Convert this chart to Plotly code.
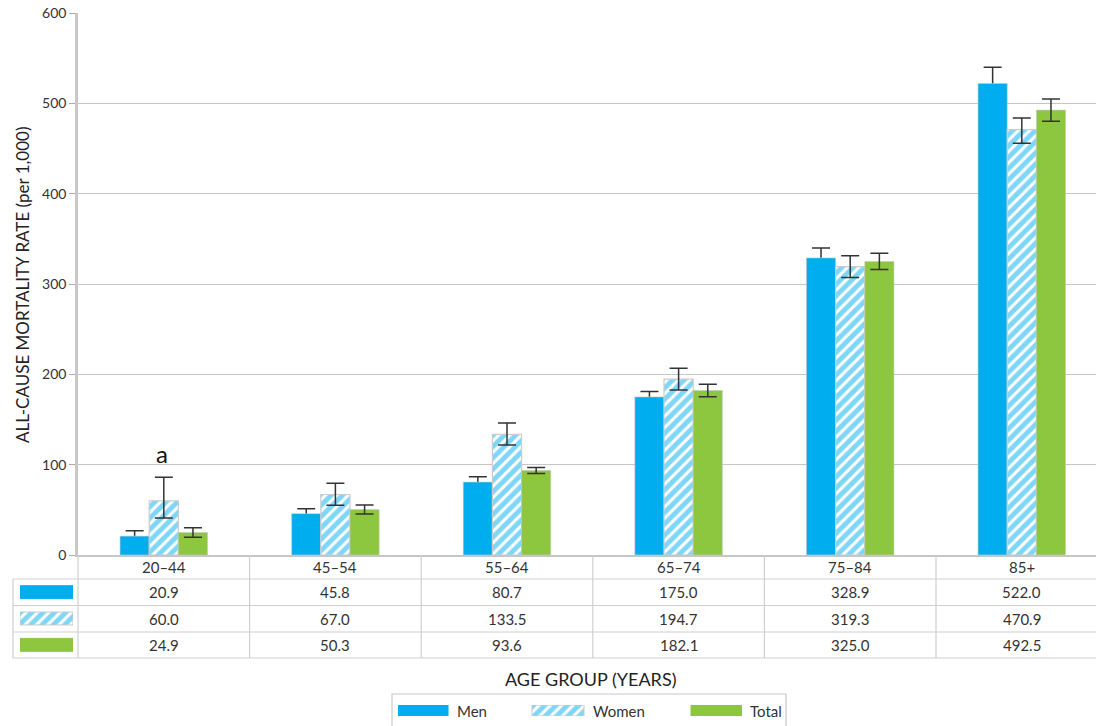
import plotly.graph_objects as go

# ---------------- data ----------------
categories = ["20–44", "45–54", "55–64", "65–74", "75–84", "85+"]
men = [20.9, 45.8, 80.7, 175.0, 328.9, 522.0]
women = [60.0, 67.0, 133.5, 194.7, 319.3, 470.9]
total = [24.9, 50.3, 93.6, 182.1, 325.0, 492.5]
men_err = [6.0, 5.5, 6.0, 6.0, 11.0, 18.0]
women_err_plus = [26.0, 12.3, 12.6, 12.0, 12.0, 13.0]
women_err_minus = [19.0, 12.0, 11.7, 12.0, 12.0, 15.0]
total_err = [5.3, 5.0, 3.4, 6.8, 9.0, 12.2]
series_names = ["Men", "Women", "Total"]
y_ticks = [0, 100, 200, 300, 400, 500, 600]

# ---------------- style ----------------
W, H = 1096, 726
BLUE = "#00AEEF"
GREEN = "#8DC63F"
GRID = "#c6c6c6"
TXT = "#333333"
FONT = "Lato"
ERR = "#333333"
PAT = dict(shape="/", fgcolor=BLUE, bgcolor="white", size=8, solidity=0.62)


def fx(px):
    return px / W


def fy(py):
    return 1 - py / H


fig = go.Figure()

# invisible carrier for men error bars (drawn beneath the men bars)
fig.add_trace(go.Bar(
    x=categories, y=men, offsetgroup="men",
    marker=dict(color="rgba(0,0,0,0)", line=dict(width=0)),
    error_y=dict(type="data", array=men_err, color=ERR, thickness=1.5, width=9),
    showlegend=False, hoverinfo="skip"))
fig.add_trace(go.Bar(
    x=categories, y=men, name="Men", offsetgroup="men",
    marker=dict(color=BLUE, line=dict(color="rgba(200,200,200,0.6)", width=1)),
    showlegend=False))
fig.add_trace(go.Bar(
    x=categories, y=women, name="Women", offsetgroup="women",
    marker=dict(color="white", line=dict(color="#cccccc", width=1.2), pattern=PAT),
    error_y=dict(type="data", symmetric=False, array=women_err_plus,
                 arrayminus=women_err_minus, color=ERR, thickness=1.5, width=9),
    showlegend=False))
fig.add_trace(go.Bar(
    x=categories, y=total, name="Total", offsetgroup="total",
    marker=dict(color=GREEN, line=dict(color="rgba(200,200,200,0.6)", width=1)),
    error_y=dict(type="data", array=total_err, color=ERR, thickness=1.5, width=9),
    showlegend=False))

# swatch styles for table and legend
sw_styles = [
    dict(color=BLUE, line=dict(color=BLUE, width=1)),
    dict(color="white", line=dict(color="#c8c8c8", width=1), pattern=PAT),
    dict(color=GREEN, line=dict(color=GREEN, width=1)),
]

# table swatches (x2/y2)
for r, st in enumerate(sw_styles):
    fig.add_trace(go.Bar(
        orientation="h", y=[r + 0.5], x=[1], base=0, width=0.49,
        xaxis="x2", yaxis="y2", offsetgroup="sw", marker=st,
        showlegend=False, hoverinfo="skip"))

# legend swatches (x3/y3)
leg_start = [0, 134, 293]
leg_len = [50, 52, 51]
for r, st in enumerate(sw_styles):
    fig.add_trace(go.Bar(
        orientation="h", y=[0], x=[leg_len[r]], base=leg_start[r], width=1,
        xaxis="x3", yaxis="y3", offsetgroup="lg", marker=st,
        showlegend=False, hoverinfo="skip"))

# ---------------- table ----------------
shapes = []
annotations = []
LINE = dict(color="#cfcfcf", width=1.2)
table_top = 555
row_bounds = [579, 605.5, 632, 658]
for i in range(len(categories)):
    shapes.append(dict(type="line", xref="x", yref="paper",
                       x0=i + 0.5, x1=i + 0.5, y0=fy(table_top), y1=fy(658), line=LINE))
shapes.append(dict(type="line", xref="paper", yref="paper",
                   x0=fx(78), x1=fx(78), y0=fy(table_top), y1=fy(658), line=LINE))
shapes.append(dict(type="line", xref="paper", yref="paper",
                   x0=fx(13), x1=fx(13), y0=fy(579), y1=fy(658), line=LINE))
for yb in row_bounds:
    shapes.append(dict(type="line", xref="paper", yref="paper",
                       x0=fx(13), x1=1, y0=fy(yb), y1=fy(yb), line=LINE))

CELL_FONT = dict(size=15, color=TXT, family=FONT)
for i, c in enumerate(categories):
    annotations.append(dict(xref="x", yref="paper", x=c, y=fy(567), text=c,
                            xanchor="center", yanchor="middle",
                            showarrow=False, font=CELL_FONT))
    for r, vals in enumerate([men, women, total]):
        yc = (row_bounds[r] + row_bounds[r + 1]) / 2
        annotations.append(dict(xref="x", yref="paper", x=c, y=fy(yc),
                                xanchor="center", yanchor="middle",
                                text=f"{vals[i]:.1f}", showarrow=False,
                                font=CELL_FONT))

# "a" marker
annotations.append(dict(xref="x", yref="y", x=categories[0], y=112, text="a",
                        showarrow=False, xanchor="center", yanchor="middle",
                        xshift=-2,
                        font=dict(size=24, color="#111111", family=FONT)))

# axis titles
annotations.append(dict(xref="paper", yref="paper", x=fx(22), y=fy(285),
                        xanchor="center", yanchor="middle",
                        text="ALL-CAUSE MORTALITY RATE (per 1,000)", textangle=-90,
                        showarrow=False, font=dict(size=17, color="#222222", family=FONT)))
annotations.append(dict(xref="paper", yref="paper", x=fx(590), y=fy(679),
                        xanchor="center", yanchor="middle",
                        text="AGE GROUP (YEARS)", showarrow=False,
                        font=dict(size=18, color="#222222", family=FONT)))

# legend box and labels
shapes.append(dict(type="rect", xref="paper", yref="paper",
                   x0=fx(392), x1=fx(786), y0=fy(730), y1=fy(694),
                   line=dict(color="#c8c8c8", width=1.2), fillcolor="rgba(0,0,0,0)"))
for name, xs in zip(series_names, [455, 591, 748]):
    annotations.append(dict(xref="paper", yref="paper", x=fx(xs), y=fy(710.5),
                            text=name, showarrow=False, xanchor="left",
                            yanchor="middle", font=CELL_FONT))

cat_w = (936 - 78) / 5.0
x_right = -0.5 + (W - 78) / cat_w

fig.update_layout(
    width=W, height=H,
    margin=dict(l=0, r=0, t=0, b=0, pad=0, autoexpand=False),
    paper_bgcolor="white", plot_bgcolor="white",
    barmode="group", bargap=0.49, bargroupgap=0.0,
    font=dict(family=FONT, color=TXT),
    shapes=shapes, annotations=annotations,
    xaxis=dict(domain=[fx(78), 1], type="category", categoryorder="array",
               categoryarray=categories, range=[-0.5, x_right],
               showticklabels=False, ticks="", showgrid=False, automargin=False,
               showline=True, linecolor=GRID, linewidth=1.5, zeroline=False,
               fixedrange=True),
    yaxis=dict(domain=[fy(555), fy(13)], range=[0, 600], tickvals=y_ticks,
               showgrid=True, gridcolor=GRID, gridwidth=1.2, automargin=False,
               showline=True, linecolor="#c8c8c8", linewidth=2.5,
               ticks="outside", ticklen=6, tickcolor="#aaaaaa", tickwidth=1.2,
               tickfont=dict(size=14, color=TXT, family=FONT),
               zeroline=False, fixedrange=True),
    xaxis2=dict(domain=[fx(20), fx(73)], range=[0, 1], anchor="y2",
                visible=False, fixedrange=True, automargin=False),
    yaxis2=dict(domain=[fy(658), fy(579)], range=[3, 0], anchor="x2",
                visible=False, fixedrange=True, automargin=False),
    xaxis3=dict(domain=[fx(398), fx(742)], range=[0, 344], anchor="y3",
                visible=False, fixedrange=True, automargin=False),
    yaxis3=dict(domain=[fy(716), fy(705)], range=[-0.5, 0.5], anchor="x3",
                visible=False, fixedrange=True, automargin=False),
)

fig.write_html("out.html", config={"displayModeBar": False},
               post_script="document.body.style.margin='0';document.body.style.overflow='hidden';")
